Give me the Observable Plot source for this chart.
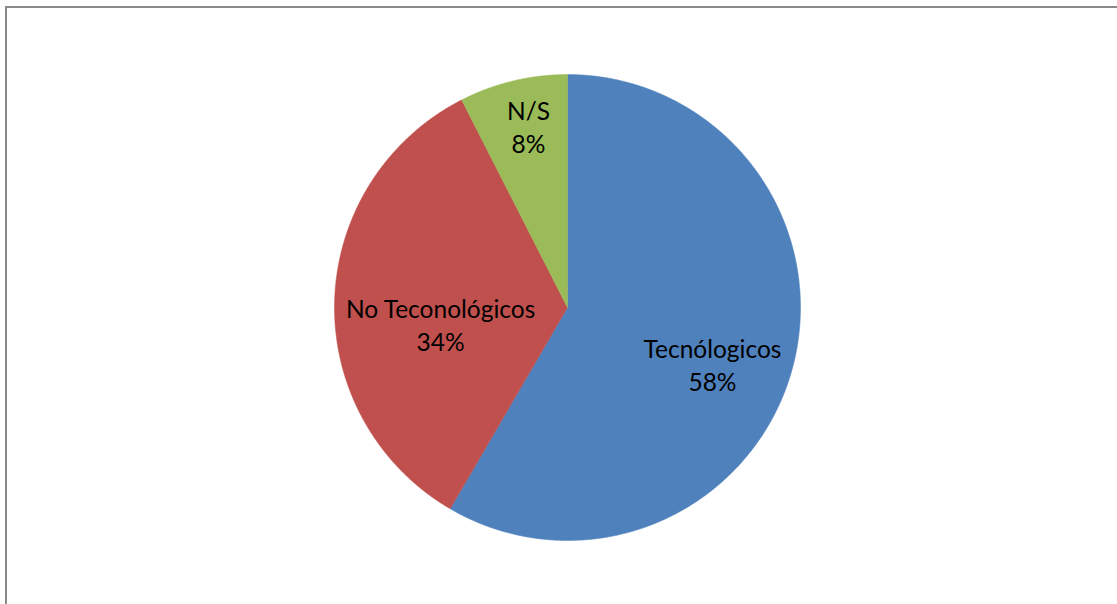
<!DOCTYPE html>
<html>
<head>
<meta charset="utf-8">
<script src="https://cdn.jsdelivr.net/npm/d3@7"></script>
<script src="https://cdn.jsdelivr.net/npm/@observablehq/plot@0.6"></script>
<style>
  html, body { margin: 0; padding: 0; background: #fff; }
  #wrap { position: relative; width: 1117px; height: 604px; overflow: hidden; }
  #frame { position: absolute; left: 5px; top: 6px; width: 1200px; height: 700px;
           border-top: 2px solid #8a8a8a; border-left: 2px solid #8a8a8a; }
  #chart { position: absolute; left: 0; top: 0; }
</style>
</head>
<body>
<div id="wrap"><div id="frame"></div><div id="chart"></div></div>
<script>
// Data
const categories = ["Tecnólogicos", "No Teconológicos", "N/S"];
const values = [58.4, 34.1, 7.5];
const colors = ["#4F81BD", "#C0504D", "#9BBB59"];

// Layout for labels (radius fraction, angular nudge in degrees from bisector)
const labelLayout = {
  "Tecnólogicos": {r: 0.667, turn: 6},
  "No Teconológicos": {r: 0.549, turn: -8.8},
  "N/S": {r: 0.799, turn: 1.4}
};

const total = d3.sum(values);
const pie = d3.pie().sort(null).value(d => d.value)(categories.map((c, i) => ({cat: c, value: values[i]})));

// polygon points per slice (angles clockwise from top)
const pts = [];
const labels = [];
pie.forEach(s => {
  const cat = s.data.cat;
  pts.push({cat, x: 0, y: 0});
  const step = 0.25 * Math.PI / 180;
  const n = Math.max(2, Math.ceil((s.endAngle - s.startAngle) / step));
  for (let k = 0; k <= n; k++) {
    const a = s.startAngle + (s.endAngle - s.startAngle) * k / n;
    pts.push({cat, x: Math.sin(a), y: Math.cos(a)});
  }
  pts.push({cat, x: 0, y: 0});
  const L = labelLayout[cat];
  const mid = (s.startAngle + s.endAngle) / 2 + L.turn * Math.PI / 180;
  labels.push({cat, x: L.r * Math.sin(mid), y: L.r * Math.cos(mid),
               text: cat + "\n" + Math.round(s.data.value / total * 100) + "%"});
});

const chart = Plot.plot({
  width: 1117,
  height: 604,
  marginLeft: 334,
  marginRight: 317,
  marginTop: 74,
  marginBottom: 64,
  x: {domain: [-1, 1], axis: null},
  y: {domain: [-1, 1], axis: null},
  color: {domain: categories, range: colors},
  style: {background: "transparent"},
  marks: [
    Plot.line(pts, {x: "x", y: "y", z: "cat", fill: "cat", stroke: "cat", strokeWidth: 0.5, curve: "linear"}),
    Plot.text(labels, {x: "x", y: "y", text: "text", fill: "#000", fontSize: 24.5,
                       fontFamily: "Lato", lineHeight: 1.35, textAnchor: "middle"})
  ]
});
document.getElementById("chart").appendChild(chart);
</script>
</body>
</html>
